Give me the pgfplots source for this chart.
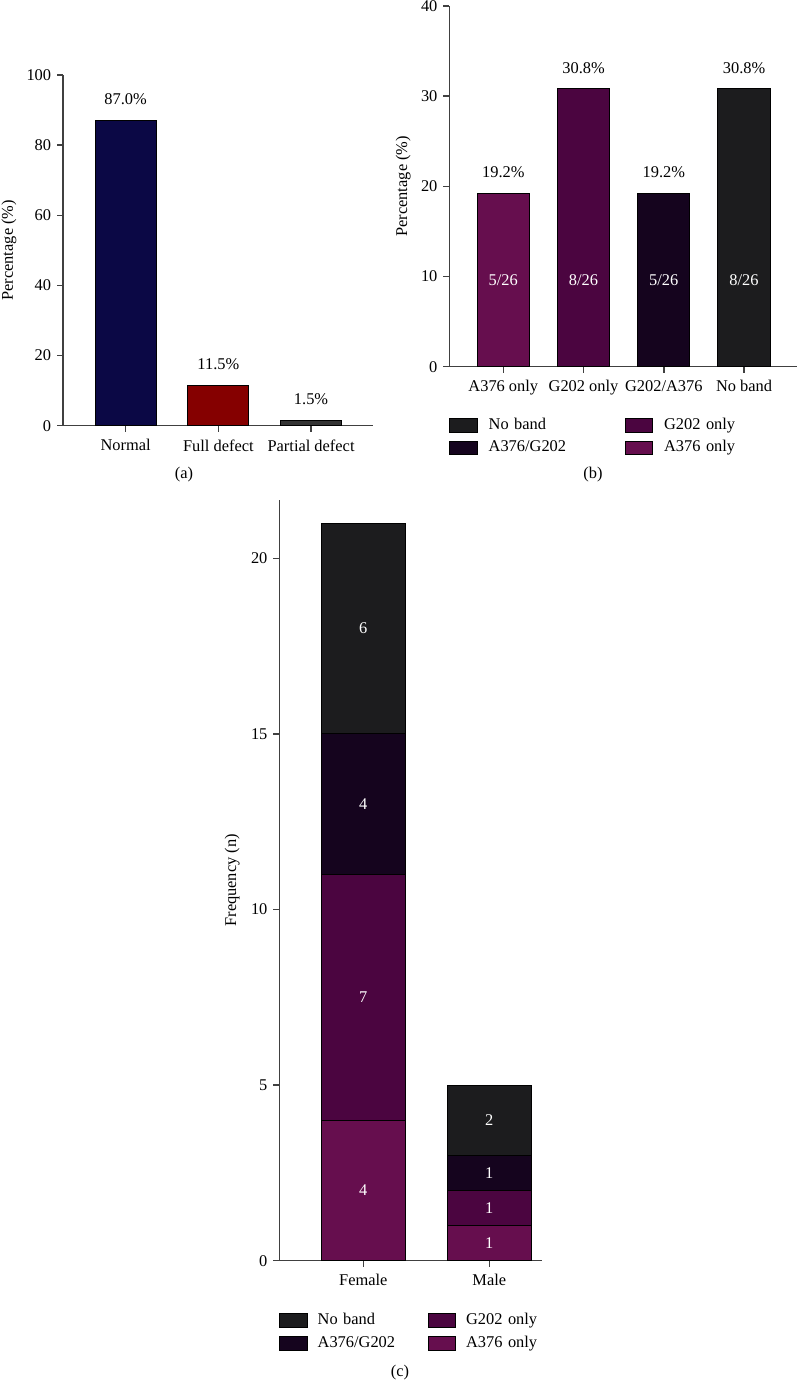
\documentclass[border=0pt]{standalone}
\usepackage{fontspec}
\setmainfont{Liberation Serif}
\usepackage{pgfplots}
\pgfplotsset{compat=1.18}
\definecolor{navy}{HTML}{0B0845}
\definecolor{dred}{HTML}{850000}
\definecolor{dgray}{HTML}{333333}
\definecolor{cA}{HTML}{660E4E}
\definecolor{cG}{HTML}{4B0540}
\definecolor{cAG}{HTML}{15041E}
\definecolor{cN}{HTML}{1C1C1E}
\definecolor{axgray}{HTML}{404040}
\pgfplotsset{
  /pgf/number format/assume math mode=true,
  base/.style={
    scale only axis,
    anchor=south west,
    axis lines=left,
    axis line style={-, axgray, line width=0.75pt},
    tick style={axgray, line width=0.75pt},
    tick align=outside,
    major tick length=3pt,
    ymin=0,
    clip=false,
    xticklabel style={yshift=-1pt},
    every axis y label/.style={at={(axis description cs:0,0.5)}, anchor=center, rotate=90},
  },
  lab/.style={
    nodes near coords={\pgfmathprintnumber[fixed,fixed zerofill,precision=1]{\pgfplotspointmeta}\%},
    point meta=y,
    every node near coord/.append style={anchor=south, inner sep=0pt, yshift=7.5pt, black},
  },
  sw/.style={legend image code/.code={\draw[##1] (0pt,-3.35pt) rectangle (13.7pt,3.35pt);}},
  bars/.style={draw=black, line width=0.5pt},
}
\begin{document}
\fontsize{8.2}{9.8}\selectfont
\begin{tikzpicture}
\useasboundingbox (0,0) rectangle (399pt,691pt);
% ---------- (a)
\begin{axis}[base, at={(31.5pt,478.15pt)}, width=155pt, height=175.35pt,
  xmin=-0.676, xmax=2.668, ymax=100, ytick={0,20,...,100},
  xtick={0,1,2}, xticklabels={Normal, Full defect, Partial defect},
  ylabel={Percentage (\%)}, ylabel style={yshift=27pt}]
\addplot[ybar, bar width=30.5pt, bar shift=0pt, bars, fill=navy, lab] coordinates {(0,87.0)};
\addplot[ybar, bar width=30.5pt, bar shift=0pt, bars, fill=dred, lab] coordinates {(1,11.5)};
\addplot[ybar, bar width=30.5pt, bar shift=0pt, bars, fill=dgray, lab] coordinates {(2,1.5)};
\end{axis}
% ---------- (b)
\begin{axis}[base, at={(224.65pt,507.65pt)}, width=173.85pt, height=180.35pt,
  xmin=-0.673, xmax=3.66, ymax=40, ytick={0,10,...,40},
  xtick={0,1,2,3}, xticklabels={A376 only, G202 only, G202/A376, No band},
  ylabel={Percentage (\%)}, ylabel style={yshift=23pt},
  legend columns=2, legend cell align=left,
  legend style={draw=none, fill=none, at={(axis description cs:0,0)}, anchor=north west,
    yshift=-25.8pt, inner sep=0pt, outer sep=0pt, row sep=4pt,
    nodes={inner sep=0pt, text width=68pt, text height=5.6pt, text depth=1.6pt, align=left},
    /tikz/every odd column/.append style={column sep=5.5pt}}]
\addlegendimage{sw, fill=cN, draw=black, line width=0.5pt}
\addlegendentry{No band}
\addlegendimage{sw, fill=cG, draw=black, line width=0.5pt}
\addlegendentry{G202 only}
\addlegendimage{sw, fill=cAG, draw=black, line width=0.5pt}
\addlegendentry{A376/G202}
\addlegendimage{sw, fill=cA, draw=black, line width=0.5pt}
\addlegendentry{A376 only}
\addplot[forget plot, ybar, bar width=26.15pt, bar shift=0pt, bars, fill=cA, lab] coordinates {(0,19.2)};
\addplot[forget plot, ybar, bar width=26.15pt, bar shift=0pt, bars, fill=cG, lab] coordinates {(1,30.8)};
\addplot[forget plot, ybar, bar width=26.15pt, bar shift=0pt, bars, fill=cAG, lab] coordinates {(2,19.2)};
\addplot[forget plot, ybar, bar width=26.15pt, bar shift=0pt, bars, fill=cN, lab] coordinates {(3,30.8)};
\addplot[forget plot, draw=none, mark=none, nodes near coords, point meta=explicit symbolic,
  every node near coord/.append style={anchor=center, inner sep=0pt, text=white}]
  coordinates {(0,9.6)[5/26] (1,9.6)[8/26] (2,9.6)[5/26] (3,9.6)[8/26]};
\end{axis}
% ---------- (c)
\begin{axis}[base, at={(139.65pt,60.65pt)}, width=131.2pt, height=380.35pt,
  xmin=-0.667, xmax=1.416, ymax=21.66, ytick={0,5,...,20},
  xtick={0,1}, xticklabels={Female, Male},
  ybar stacked, bar width=42pt,
  ylabel={Frequency (n)}, ylabel style={yshift=23.6pt},
  legend columns=2, legend cell align=left,
  legend style={draw=none, fill=none, at={(axis description cs:0,0)}, anchor=north west,
    yshift=-26.3pt, inner sep=0pt, outer sep=0pt, row sep=4.35pt,
    nodes={inner sep=0pt, text width=55pt, text height=5.6pt, text depth=1.6pt, align=left},
    /tikz/every odd column/.append style={column sep=5pt}}]
\addlegendimage{sw, fill=cN, draw=black, line width=0.5pt}
\addlegendentry{No band}
\addlegendimage{sw, fill=cG, draw=black, line width=0.5pt}
\addlegendentry{G202 only}
\addlegendimage{sw, fill=cAG, draw=black, line width=0.5pt}
\addlegendentry{A376/G202}
\addlegendimage{sw, fill=cA, draw=black, line width=0.5pt}
\addlegendentry{A376 only}
\addplot[forget plot, bars, fill=cA] coordinates {(0,4) (1,1)};
\addplot[forget plot, bars, fill=cG] coordinates {(0,7) (1,1)};
\addplot[forget plot, bars, fill=cAG] coordinates {(0,4) (1,1)};
\addplot[forget plot, bars, fill=cN] coordinates {(0,6) (1,2)};
\end{axis}
\begin{axis}[scale only axis, anchor=south west, at={(139.65pt,60.65pt)}, width=131.2pt, height=380.35pt,
  xmin=-0.667, xmax=1.416, ymin=0, ymax=21.66, hide axis, clip=false]
\addplot[draw=none, mark=none, nodes near coords, point meta=explicit symbolic,
  every node near coord/.append style={anchor=center, inner sep=0pt, text=white}]
  coordinates {(0,2)[4] (0,7.5)[7] (0,13)[4] (0,18)[6] (1,0.5)[1] (1,1.5)[1] (1,2.5)[1] (1,4)[2]};
\end{axis}
\node at (92pt,453.5pt) {(a)};
\node at (296.5pt,453.5pt) {(b)};
\node at (200pt,4.5pt) {(c)};
\end{tikzpicture}
\end{document}
